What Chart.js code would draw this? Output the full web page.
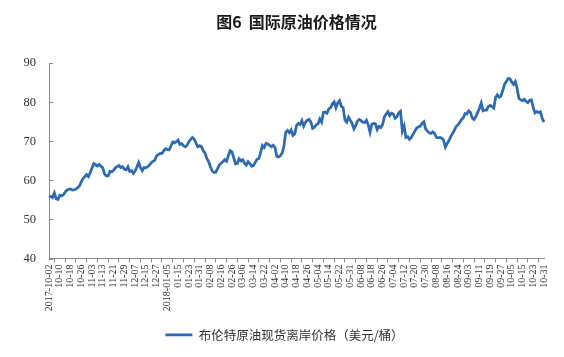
<!DOCTYPE html>
<html>
<head>
<meta charset="utf-8">
<script src="https://cdn.jsdelivr.net/npm/chart.js@4.4.1/dist/chart.umd.min.js"></script>
<style>
html,body{margin:0;padding:0;background:#ffffff;}
#wrap{width:564px;height:357px;position:relative;}
</style>
</head>
<body>
<div id="wrap"><canvas id="c" width="564" height="357"></canvas></div>
<script>
// ---------------- data ----------------
const TITLE = '图6  国际原油价格情况';
const SERIES_NAME = '布伦特原油现货离岸价格（美元/桶）';

// trading days: every weekday from START to END except these
const START_DATE = '2017-10-02';
const END_DATE = '2018-10-31';
const NON_TRADING_DAYS = ['2017-12-25', '2017-12-26', '2018-01-01', '2018-03-30', '2018-05-28', '2018-08-06'];

// axis labels, one every 6 trading days
const TICK_EVERY = 6;
const TICK_LABELS = [
  '2017-10-02', '10-10', '10-18', '10-26', '11-03', '11-13', '11-21', '11-29', '12-07', '12-15', '12-27',
  '2018-01-05', '01-15', '01-23', '01-31', '02-08', '02-16', '02-26', '03-06', '03-14', '03-22', '04-02',
  '04-10', '04-18', '04-26', '05-04', '05-14', '05-22', '05-31', '06-08', '06-18', '06-26', '07-04',
  '07-12', '07-20', '07-30', '08-08', '08-16', '08-24', '09-03', '09-11', '09-19', '09-27', '10-05',
  '10-15', '10-23', '10-31'
];

const Y_MIN = 40, Y_MAX = 90, Y_STEP = 10;

// Brent spot FOB price (USD/bbl), month by month
const BRENT_2017_10 = [55.7, 55.9, 55.6, 56.8, 55.3, 55.1, 56.2, 56.0, 56.3, 57.0, 57.5, 57.7, 57.8, 57.5, 57.6, 57.8, 58.1, 58.6, 59.6, 60.5, 61.0, 61.5];
const BRENT_2017_11 = [61.0, 62.0, 63.2, 64.3, 64.0, 63.7, 64.1, 63.6, 63.2, 61.6, 61.1, 61.2, 62.3, 62.2, 62.6, 63.2, 63.5, 63.8, 63.3, 63.5, 62.9, 62.7];
const BRENT_2017_12 = [63.5, 62.3, 62.5, 61.8, 62.4, 63.4, 64.6, 63.3, 62.5, 63.3, 63.2, 63.5, 63.9, 64.5, 64.9, 65.2, 66.3, 66.6, 66.9];
const BRENT_2018_01 = [66.9, 67.6, 68.1, 67.9, 67.8, 68.8, 69.8, 69.6, 69.9, 70.3, 69.2, 69.4, 68.9, 68.6, 69.0, 69.9, 70.5, 71.0, 70.5, 69.5, 68.6, 68.9];
const BRENT_2018_02 = [68.6, 67.6, 67.0, 65.6, 64.8, 63.5, 62.4, 62.0, 62.1, 63.0, 64.0, 64.4, 64.8, 65.3, 64.9, 66.3, 67.6, 67.3, 65.8, 64.2];
const BRENT_2018_03 = [64.3, 65.5, 65.0, 65.3, 64.4, 63.9, 64.8, 64.3, 63.6, 63.8, 64.6, 65.4, 65.6, 67.2, 68.9, 68.4, 69.5, 69.3, 69.0, 68.6, 69.0];
const BRENT_2018_04 = [68.4, 66.2, 66.0, 66.3, 67.0, 68.8, 72.3, 72.8, 72.2, 72.9, 71.5, 71.9, 74.0, 74.6, 74.3, 75.3, 73.9, 74.9, 75.4, 75.6, 75.0];
const BRENT_2018_05 = [73.3, 73.6, 74.2, 74.5, 75.7, 74.9, 77.4, 77.5, 77.2, 78.3, 78.6, 79.6, 80.1, 78.6, 79.8, 80.4, 79.0, 78.6, 75.5, 74.9, 76.2, 75.4];
const BRENT_2018_06 = [74.6, 73.2, 74.0, 75.2, 75.6, 75.3, 74.9, 74.8, 75.4, 74.2, 72.3, 74.4, 74.6, 74.5, 73.0, 73.8, 73.5, 74.3, 76.3, 77.0, 77.6];
const BRENT_2018_07 = [76.6, 77.2, 77.0, 75.9, 76.3, 77.3, 77.7, 72.6, 73.9, 71.0, 71.2, 70.5, 71.0, 71.8, 72.6, 73.4, 73.7, 73.9, 74.6, 75.0, 73.2, 72.6];
const BRENT_2018_08 = [72.2, 72.0, 72.4, 72.0, 71.0, 70.9, 71.0, 70.8, 70.3, 68.5, 69.4, 70.2, 71.2, 72.0, 72.8, 73.8, 74.2, 74.8, 75.6, 76.0, 77.1, 77.0];
const BRENT_2018_09 = [77.8, 77.4, 76.0, 75.6, 76.3, 77.4, 78.4, 79.8, 77.8, 78.0, 78.0, 78.9, 79.2, 78.9, 78.5, 81.2, 81.9, 81.3, 81.6, 83.0];
const BRENT_2018_10 = [84.6, 85.3, 86.1, 86.0, 85.2, 84.6, 85.3, 83.6, 81.0, 80.6, 80.4, 80.8, 80.2, 79.9, 80.5, 80.6, 78.6, 77.3, 77.6, 77.4, 77.6, 75.9, 74.9];

// ---------------- build ----------------
const BRENT = [].concat(BRENT_2017_10, BRENT_2017_11, BRENT_2017_12, BRENT_2018_01, BRENT_2018_02,
  BRENT_2018_03, BRENT_2018_04, BRENT_2018_05, BRENT_2018_06, BRENT_2018_07, BRENT_2018_08,
  BRENT_2018_09, BRENT_2018_10);

function tradingDays(start, end, skip) {
  const out = [];
  const d = new Date(start + 'T00:00:00Z');
  const e = new Date(end + 'T00:00:00Z');
  while (d <= e) {
    const s = d.toISOString().slice(0, 10);
    const wd = d.getUTCDay();
    if (wd !== 0 && wd !== 6 && skip.indexOf(s) < 0) out.push(s);
    d.setUTCDate(d.getUTCDate() + 1);
  }
  return out;
}
const DATES = tradingDays(START_DATE, END_DATE, NON_TRADING_DAYS);

const AXIS_COLOR = '#8c8c8c';
const LINE_COLOR = '#2c6bb3';

const innerYTicks = {
  id: 'innerYTicks',
  afterDraw(chart) {
    const y = chart.scales.y;
    const ctx = chart.ctx;
    ctx.save();
    ctx.strokeStyle = AXIS_COLOR;
    ctx.lineWidth = 1;
    y.ticks.forEach(t => {
      const py = Math.round(y.getPixelForValue(t.value)) + 0.5;
      ctx.beginPath();
      ctx.moveTo(chart.chartArea.left, py);
      ctx.lineTo(chart.chartArea.left + 4, py);
      ctx.stroke();
    });
    ctx.restore();
  }
};

new Chart(document.getElementById('c'), {
  type: 'line',
  data: {
    labels: DATES,
    datasets: [{
      label: SERIES_NAME,
      data: BRENT,
      borderColor: LINE_COLOR,
      backgroundColor: LINE_COLOR,
      borderWidth: 2.75,
      pointRadius: 0,
      pointHoverRadius: 0,
      tension: 0,
      fill: false
    }]
  },
  options: {
    responsive: false,
    animation: false,
    devicePixelRatio: 1,
    layout: { padding: { left: 5, right: 0, top: 0, bottom: 6 } },
    plugins: {
      tooltip: { enabled: false },
      title: {
        display: true,
        text: TITLE,
        fullSize: false,
        color: '#1a1a1a',
        font: { family: '"Noto Sans CJK SC", sans-serif', size: 16, weight: 'bold' },
        padding: { top: 12, bottom: 32 }
      },
      legend: {
        display: true,
        position: 'bottom',
        labels: {
          usePointStyle: true,
          pointStyle: 'line',
          pointStyleWidth: 27,
          color: '#333333',
          padding: 10,
          font: { family: '"Noto Sans CJK SC", sans-serif', size: 12.5 }
        }
      }
    },
    scales: {
      x: {
        type: 'category',
        offset: false,
        border: { display: true, color: AXIS_COLOR, width: 1 },
        grid: {
          display: true,
          drawOnChartArea: false,
          drawTicks: true,
          tickLength: 4,
          tickColor: (c) => (c.index % TICK_EVERY === 3 ? AXIS_COLOR : 'rgba(0,0,0,0)')
        },
        ticks: {
          autoSkip: false,
          maxRotation: 90,
          minRotation: 90,
          padding: 2,
          color: '#333333',
          font: { family: '"Liberation Serif", serif', size: 10 },
          callback: function (value, index) {
            return index % TICK_EVERY === 0 ? TICK_LABELS[index / TICK_EVERY] : '';
          }
        },
        afterFit: (s) => { s.height = 60; }
      },
      y: {
        type: 'linear',
        min: Y_MIN,
        max: Y_MAX,
        border: { display: true, color: AXIS_COLOR, width: 1 },
        grid: { display: true, drawOnChartArea: false, drawTicks: false },
        ticks: {
          stepSize: Y_STEP,
          padding: 13,
          color: '#333333',
          font: { family: '"Liberation Serif", serif', size: 12.5 }
        },
        afterFit: (s) => { s.width = 44; }
      },
      yPad: {
        type: 'linear',
        position: 'right',
        display: true,
        grid: { display: false, drawTicks: false },
        border: { display: false },
        ticks: { display: false },
        afterFit: (s) => { s.width = 20; }
      }
    }
  },
  plugins: [innerYTicks]
});
</script>
</body>
</html>
